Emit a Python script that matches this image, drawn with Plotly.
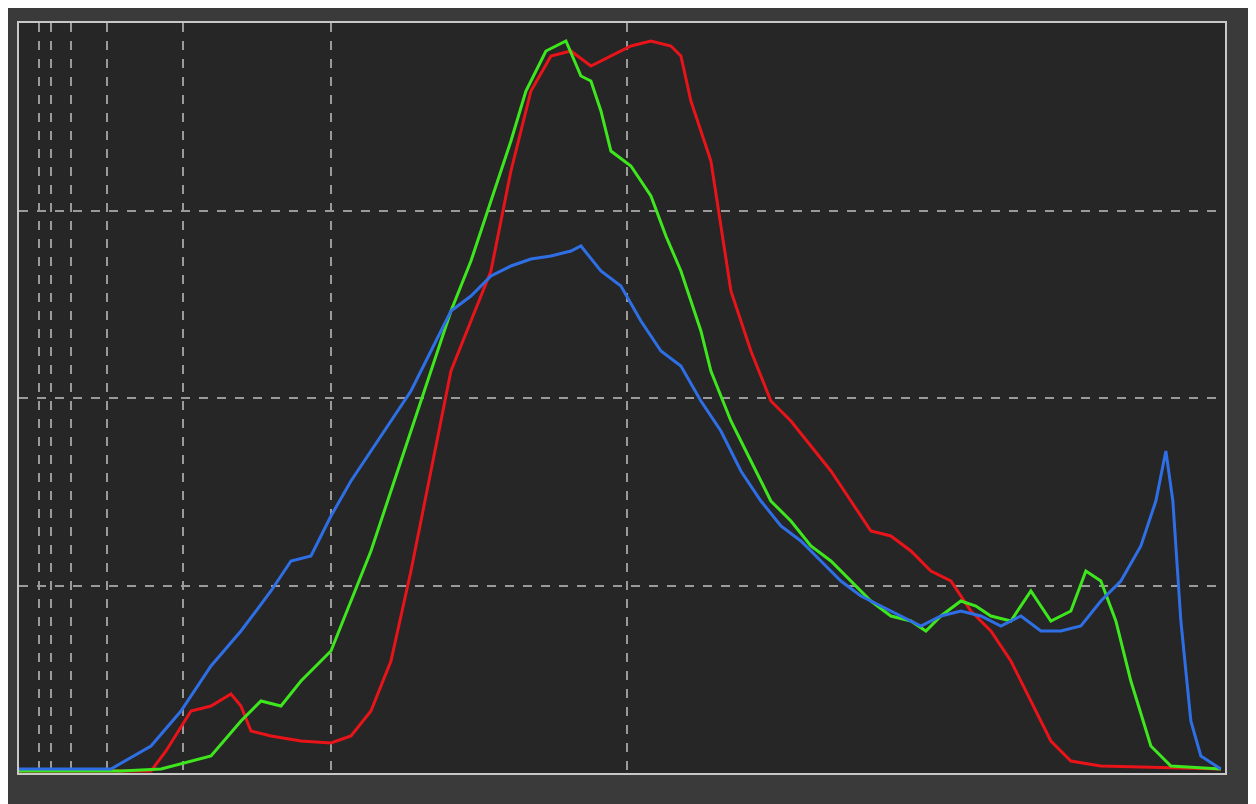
import plotly.graph_objects as go

def cx(p): return [(a-18)/4.73 for a in p]
def cy(p): return [(772-a)/7.5 for a in p]

blue_px=[18,110,150,180,210,240,270,290,310,330,350,370,390,410,430,450,470,490,510,530,550,570,580,600,620,640,660,680,700,720,740,760,780,800,820,840,860,880,900,920,940,960,980,1000,1020,1040,1060,1080,1100,1120,1140,1155,1165,1172,1180,1190,1200,1220]
blue_py=[768,768,745,710,665,630,590,560,555,515,480,450,420,390,350,310,295,275,265,258,255,250,245,270,285,320,350,365,400,430,470,500,525,540,560,580,595,605,615,625,615,610,615,625,615,630,630,625,600,580,545,500,450,500,620,720,755,768]
green_px=[18,120,160,210,240,260,280,300,330,350,370,390,410,430,450,470,490,510,525,545,565,580,590,600,610,630,650,665,680,700,710,730,750,770,790,810,830,850,870,890,910,925,940,960,975,990,1010,1030,1050,1070,1085,1100,1115,1130,1150,1170,1220]
green_py=[770,770,768,755,720,700,705,680,650,600,550,490,430,370,310,260,200,140,90,50,40,75,80,110,150,165,195,235,270,330,370,420,460,500,520,545,560,580,600,615,620,630,615,600,605,615,620,590,620,610,570,580,620,680,745,765,768]
red_px=[18,150,165,190,210,230,240,250,270,300,330,350,370,390,410,430,450,470,490,510,530,550,570,590,610,630,650,670,680,690,710,730,750,770,790,810,830,850,870,890,910,930,950,970,990,1010,1030,1050,1070,1100,1220]
red_py=[770,770,750,710,705,693,705,730,735,740,742,735,710,660,570,470,370,320,270,170,90,55,50,65,55,45,40,45,55,100,160,290,350,400,420,445,470,500,530,535,550,570,580,610,630,660,700,740,760,765,768]

xgrid=[4.2,6.8,11.0,18.6,34.7,65.9,128.5]
fig=go.Figure()
for px,py,c in [(red_px,red_py,'#e8141a'),(green_px,green_py,'#3ee61e'),(blue_px,blue_py,'#2f6fe6')]:
    fig.add_trace(go.Scatter(x=cx(px),y=cy(py),mode='lines',line=dict(color=c,width=3),showlegend=False))
fig.update_layout(width=1256,height=804,margin=dict(l=11,r=39,t=15,b=39),
    paper_bgcolor='#3a3a3a',plot_bgcolor='#262626')
fig.update_xaxes(range=[0,255],tickvals=xgrid,showticklabels=False,showgrid=True,gridcolor='#9a9a9a',griddash='dash',gridwidth=1.5,
    zeroline=False,showline=True,linecolor='#c8c8c8',linewidth=2,mirror=True)
fig.update_yaxes(range=[0,100],tickvals=[25,50,75],showticklabels=False,showgrid=True,gridcolor='#9a9a9a',griddash='dash',gridwidth=1.5,
    zeroline=False,showline=True,linecolor='#c8c8c8',linewidth=2,mirror=True)
fig.write_html("out.html")
